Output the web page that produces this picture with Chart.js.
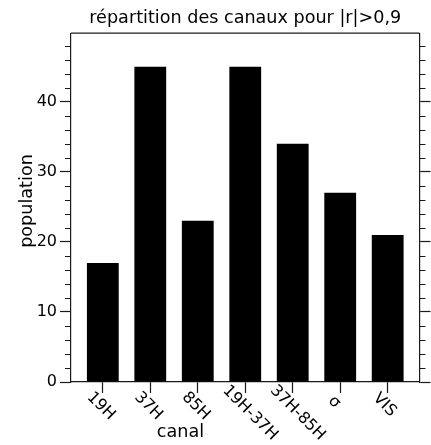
<!DOCTYPE html>
<html lang="fr">
<head>
    <meta charset="UTF-8">
    <title>Répartition des canaux</title>
    <script src="https://cdn.jsdelivr.net/npm/chart.js"></script>
    <style>
        body {
            margin: 0;
            padding: 0;
            background: #ffffff;
        }
        #chart {
            display: block;
        }
    </style>
</head>
<body>
    <canvas id="chart" width="431" height="445"></canvas>

    <script>
        // Données : nombre de canaux retenus pour |r| > 0,9
        const canaux = ["19H", "37H", "85H", "19H-37H", "37H-85H", "σ", "VIS"];
        const population = [17, 45, 23, 45, 34, 27, 21];
        const yMin = 0;
        const yMax = 49.8;
        const pasMineur = 2;
        const pasMajeur = 10;

        const titre = "répartition des canaux pour |r|>0,9";
        const titreX = "canal";
        const titreY = "population";

        const police = "'DejaVu Sans', sans-serif";
        const couleurAxe = "#1a1a1a";

        function estMajeur(v) {
            return Math.abs(v % pasMajeur) < 1e-6;
        }

        // Couleur des graduations : les mineures sont tracées à part (plus courtes)
        function couleurGraduation(ctx) {
            return ctx.tick && estMajeur(ctx.tick.value) ? couleurAxe : "rgba(0,0,0,0)";
        }

        // Cadre, graduations mineures, étiquettes inclinées et titres des axes
        const decor = {
            id: "decor",
            afterDraw(chart) {
                const ctx = chart.ctx;
                const area = chart.chartArea;
                const sx = chart.scales.x;
                const sy = chart.scales.y;

                ctx.save();
                ctx.strokeStyle = couleurAxe;
                ctx.lineWidth = 1.2;

                // bord supérieur du cadre
                ctx.beginPath();
                ctx.moveTo(area.left, area.top);
                ctx.lineTo(area.right, area.top);
                ctx.stroke();

                // graduations mineures à gauche et à droite
                ctx.lineWidth = 1;
                sy.ticks.forEach(t => {
                    if (estMajeur(t.value)) return;
                    const py = Math.round(sy.getPixelForValue(t.value)) + 0.5;
                    ctx.beginPath();
                    ctx.moveTo(area.left - 6, py);
                    ctx.lineTo(area.left, py);
                    ctx.moveTo(area.right, py);
                    ctx.lineTo(area.right + 6, py);
                    ctx.stroke();
                });

                // étiquettes de l'axe x, inclinées à 45°
                ctx.fillStyle = "#000";
                ctx.font = "16px " + police;
                canaux.forEach((lab, i) => {
                    const px = sx.getPixelForValue(i);
                    const w = ctx.measureText(lab).width;
                    ctx.save();
                    ctx.translate(px - 6.5, sx.top + 17.3);
                    ctx.rotate(Math.PI / 4);
                    ctx.textAlign = "left";
                    ctx.textBaseline = "alphabetic";
                    ctx.fillText(lab, -0.25 * w, 5.8);
                    ctx.restore();
                });

                // titres des axes
                ctx.font = "17.6px " + police;
                ctx.textAlign = "center";
                ctx.textBaseline = "alphabetic";
                ctx.fillText(titreX, 180.5, 437);

                ctx.save();
                ctx.translate(32, 201);
                ctx.rotate(-Math.PI / 2);
                ctx.fillText(titreY, 0, 0);
                ctx.restore();

                ctx.restore();
            }
        };

        const graduationsY = {
            stepSize: pasMineur,
            includeBounds: false,
            autoSkip: false,
            color: "#000",
            padding: 3,
            font: { family: police, size: 16 },
            callback: v => (estMajeur(v) ? String(v) : "")
        };

        new Chart(document.getElementById("chart"), {
            type: "bar",
            data: {
                datasets: [{
                    data: canaux.map((c, i) => ({ x: i, y: population[i] })),
                    backgroundColor: "#000000",
                    borderWidth: 0,
                    barPercentage: 0.67,
                    categoryPercentage: 1.0
                }]
            },
            options: {
                responsive: false,
                animation: false,
                devicePixelRatio: 1,
                layout: { padding: 0 },
                plugins: {
                    legend: { display: false },
                    tooltip: { enabled: false },
                    title: {
                        display: true,
                        text: titre,
                        fullSize: false,
                        color: "#000",
                        font: { family: police, size: 17.6, weight: "normal" },
                        padding: { top: 8, bottom: 4 }
                    }
                },
                scales: {
                    x: {
                        type: "linear",
                        position: "bottom",
                        offset: false,
                        min: -0.67,
                        max: 6.67,
                        afterBuildTicks: s => {
                            s.ticks = canaux.map((c, i) => ({ value: i }));
                        },
                        afterFit: s => { s.height = 63; },
                        ticks: { display: false, autoSkip: false },
                        grid: {
                            offset: false,
                            drawOnChartArea: false,
                            drawTicks: true,
                            tickLength: 11,
                            tickColor: couleurAxe,
                            tickWidth: 1.2
                        },
                        border: { color: couleurAxe, width: 1.2 }
                    },
                    y: {
                        type: "linear",
                        position: "left",
                        min: yMin,
                        max: yMax,
                        afterFit: s => { s.width = 71; },
                        ticks: graduationsY,
                        grid: {
                            drawOnChartArea: false,
                            tickLength: 11,
                            tickWidth: 1.2,
                            tickColor: couleurGraduation
                        },
                        border: { color: couleurAxe, width: 1.2 }
                    },
                    yDroite: {
                        type: "linear",
                        position: "right",
                        min: yMin,
                        max: yMax,
                        afterFit: s => { s.width = 11.5; },
                        ticks: { stepSize: pasMineur, includeBounds: false, autoSkip: false, display: false },
                        grid: {
                            drawOnChartArea: false,
                            tickLength: 11,
                            tickWidth: 1.2,
                            tickColor: couleurGraduation
                        },
                        border: { color: couleurAxe, width: 1.2 }
                    }
                }
            },
            plugins: [decor]
        });
    </script>
</body>
</html>
